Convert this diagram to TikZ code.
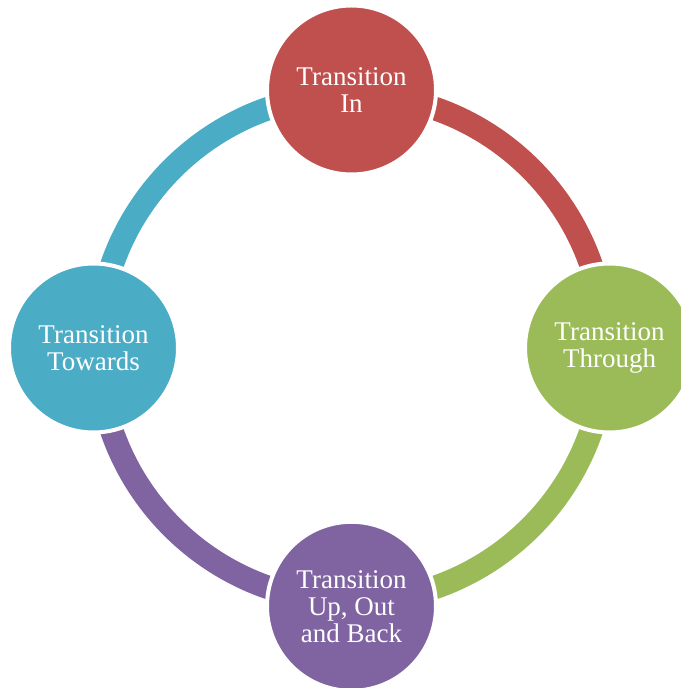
\documentclass[tikz,border=0pt]{standalone}
\usepackage{fontspec}
\setmainfont{Liberation Serif}
\definecolor{cred}{HTML}{C0504D}
\definecolor{cgreen}{HTML}{9BBB59}
\definecolor{cpurple}{HTML}{8064A2}
\definecolor{cteal}{HTML}{4BACC6}
\tikzset{
  stage/.style={circle, draw=white, line width=4pt, minimum size=169pt, inner sep=0pt,
    text=white, align=center, font=\fontsize{27}{27}\selectfont},
  band/.style={line width=23.5pt, line cap=butt}
}
\begin{document}
\begin{tikzpicture}[x=1pt,y=1pt]
\useasboundingbox (0,0) rectangle (680,688);
\coordinate (c) at (351.5,340);
\draw[band, cred] ([shift={(0:253.5)}]c) arc[start angle=0, end angle=90, radius=253.5];
\draw[band, cteal] ([shift={(90:253.5)}]c) arc[start angle=90, end angle=180, radius=253.5];
\draw[band, cpurple] ([shift={(180:253.5)}]c) arc[start angle=180, end angle=270, radius=253.5];
\draw[band, cgreen] ([shift={(270:253.5)}]c) arc[start angle=270, end angle=360, radius=253.5];
\node[stage, fill=cred] (in) at (351.5,598) {Transition\\In};
\node[stage, fill=cgreen] (through) at (609.5,340) {Transition\\Through};
\node[stage, fill=cpurple] (up) at (351.5,81.7) {Transition\\Up, Out\\and Back};
\node[stage, fill=cteal] (towards) at (93.5,340) {Transition\\Towards};
\end{tikzpicture}
\end{document}
